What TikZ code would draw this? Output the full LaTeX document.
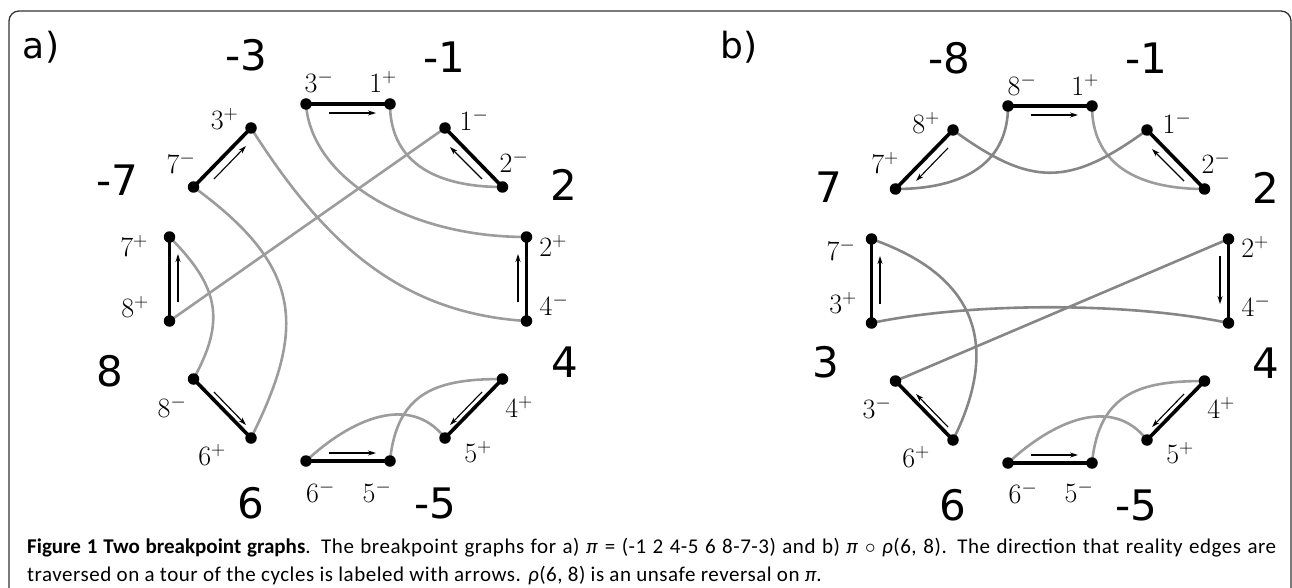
\RequirePackage{fix-cm}
\documentclass[tikz,border=0pt]{standalone}
\usepackage{fontspec}
\newfontfamily\numfont{DejaVu Sans}
\newfontfamily\capfont[LetterSpace=2.5, BoldFeatures={LetterSpace=0}]{Carlito}
\usetikzlibrary{arrows.meta,calc}
\definecolor{lgray}{HTML}{9C9C9C}
\definecolor{dgray}{HTML}{868686}
\tikzset{
  desire/.style={draw=lgray, line width=2.6pt},
  desired/.style={draw=dgray, line width=2.6pt},
  real/.style={draw=black, line width=3.6pt},
  dot/.style={circle, fill=black, inner sep=0pt, minimum size=11.5pt},
  arr/.style={draw=black, line width=1.1pt, -{Stealth[length=8pt,width=5pt]}},
  vlab/.style={inner sep=0pt, font=\fontsize{28}{30}\selectfont},
  big/.style={inner sep=0pt, font=\numfont\fontsize{42}{42}\selectfont},
  panel/.style={inner sep=0pt, font=\numfont\fontsize{36}{36}\selectfont},
  captext/.style={anchor=base west, inner sep=0pt, font=\capfont\fontsize{21}{24}\selectfont},
}
\begin{document}
\begin{tikzpicture}[x=1pt,y=-1pt]
\useasboundingbox (0,0) rectangle (1292,588);
\clip (0,0) rectangle (1292,588);
\draw[rounded corners=10pt, line width=1.3pt, draw=black!80] (9,11) rectangle (1291,640);

% ---------------- panel a ----------------
\begin{scope}
\coordinate (a3m) at (306,104);   \coordinate (a1p) at (390,104);
\coordinate (a3p) at (251,128);   \coordinate (a1m) at (445,128);
\coordinate (a7m) at (193.5,187); \coordinate (a2m) at (502.5,187);
\coordinate (a7p) at (169.5,237); \coordinate (a2p) at (526.5,237);
\coordinate (a8p) at (169.5,321); \coordinate (a4m) at (526.5,321);
\coordinate (a8m) at (193.5,379); \coordinate (a4p) at (502.5,379);
\coordinate (a6p) at (251,438);   \coordinate (a5p) at (445,438);
\coordinate (a6m) at (306,461);   \coordinate (a5m) at (390,461);

\draw[desire] (a3m) .. controls ($(a3m)+(5,73)$) and ($(a2p)+(-121,0)$) .. (a2p);
\draw[desire] (a1p) .. controls ($(a1p)+(0,54)$) and ($(a2m)+(-73,0)$) .. (a2m);
\draw[desire] (a3p) .. controls ($(a3p)+(70,110)$) and ($(a4m)+(-130,-8)$) .. (a4m);
\draw[desire] (a7m) .. controls ($(a7m)+(110,80)$) and ($(a6p)+(55,-110)$) .. (a6p);
\draw[desire] (a7p) .. controls ($(a7p)+(50,50)$) and ($(a8m)+(32,-58)$) .. (a8m);
\draw[desire] (a8p) -- (a1m);
\draw[desire] (a6m) .. controls ($(a6m)+(45,-42)$) and ($(a5p)+(-35,-45)$) .. (a5p);
\draw[desire] (a5m) .. controls ($(a5m)+(7,-71)$) and ($(a4p)+(-63,0)$) .. (a4p);

\draw[real] (a3m) -- (a1p);
\draw[real] (a3p) -- (a7m);
\draw[real] (a1m) -- (a2m);
\draw[real] (a7p) -- (a8p);
\draw[real] (a2p) -- (a4m);
\draw[real] (a8m) -- (a6p);
\draw[real] (a4p) -- (a5p);
\draw[real] (a6m) -- (a5m);

\foreach \n in {3m,1p,3p,1m,7m,2m,7p,2p,8p,4m,8m,4p,6p,5p,6m,5m}
  \node[dot] (da\n) at (a\n) {};

\coordinate (aa1) at (329,113); \coordinate (aa2) at (376,113);
\coordinate (ab1) at (214,179); \coordinate (ab2) at (246,146);
\coordinate (ac1) at (482,179); \coordinate (ac2) at (450,147);
\coordinate (ad1) at (178,302); \coordinate (ad2) at (178,254);
\coordinate (ae1) at (518,302); \coordinate (ae2) at (518,254);
\coordinate (af1) at (214,392); \coordinate (af2) at (246,425);
\coordinate (ag1) at (482,392); \coordinate (ag2) at (450,425);
\coordinate (ah1) at (329,453); \coordinate (ah2) at (376,453);
\draw[arr] (aa1) -- (aa2);
\draw[arr] (ab1) -- (ab2);
\draw[arr] (ac1) -- (ac2);
\draw[arr] (ad1) -- (ad2);
\draw[arr] (ae1) -- (ae2);
\draw[arr] (af1) -- (af2);
\draw[arr] (ag1) -- (ag2);
\draw[arr] (ah1) -- (ah2);

\node[vlab] (la3m) at (319,82) {$3^-$};
\node[vlab] (la1p) at (383,82) {$1^+$};
\node[vlab] (la3p) at (224.5,119) {$3^+$};
\node[vlab] (la1m) at (474,120) {$1^-$};
\node[vlab] (la7m) at (181,163) {$7^-$};
\node[vlab] (la2m) at (514,162) {$2^-$};
\node[vlab] (la7p) at (134,246) {$7^+$};
\node[vlab] (la2p) at (553,246) {$2^+$};
\node[vlab] (la8p) at (135,307) {$8^+$};
\node[vlab] (la4m) at (554,305) {$4^-$};
\node[vlab] (la8m) at (172,407) {$8^-$};
\node[vlab] (la4p) at (519,407) {$4^+$};
\node[vlab] (la6p) at (212,455) {$6^+$};
\node[vlab] (la5p) at (478,452) {$5^+$};
\node[vlab] (la6m) at (320.5,492) {$6^-$};
\node[vlab] (la5m) at (377,492) {$5^-$};

\node[panel] (pa) at (41,47) {a)};
\node[big] (ga1) at (246,55) {-3};
\node[big] (ga2) at (444,57) {-1};
\node[big] (ga3) at (117,180) {-7};
\node[big] (ga4) at (564,185) {2};
\node[big] (ga5) at (110,371) {8};
\node[big] (ga6) at (565,362) {4};
\node[big] (ga7) at (250.5,503) {6};
\node[big] (ga8) at (435,503) {-5};
\end{scope}

% ---------------- panel b ----------------
\begin{scope}[shift={(702,2)}]
\coordinate (b8m) at (306,104);   \coordinate (b1p) at (390,104);
\coordinate (b8p) at (251,128);   \coordinate (b1m) at (445,128);
\coordinate (b7p) at (193.5,187); \coordinate (b2m) at (502.5,187);
\coordinate (b7m) at (169.5,237); \coordinate (b2p) at (526.5,237);
\coordinate (b3p) at (169.5,321); \coordinate (b4m) at (526.5,321);
\coordinate (b3m) at (193.5,379); \coordinate (b4p) at (502.5,379);
\coordinate (b6p) at (251,438);   \coordinate (b5p) at (445,438);
\coordinate (b6m) at (306,461);   \coordinate (b5m) at (390,461);

\draw[desired] (b8m) .. controls ($(b8m)+(0,54)$) and ($(b7p)+(73,0)$) .. (b7p);
\draw[desire] (b1p) .. controls ($(b1p)+(0,54)$) and ($(b2m)+(-73,0)$) .. (b2m);
\draw[desired] (b8p) .. controls ($(b8p)+(78,57)$) and ($(b1m)+(-78,57)$) .. (b1m);
\draw[desired] (b7m) .. controls ($(b7m)+(100,35)$) and ($(b6p)+(50,-100)$) .. (b6p);
\draw[desired] (b2p) -- (b3m);
\draw[desired] (b3p) .. controls ($(b3p)+(100,-21)$) and ($(b4m)+(-100,-21)$) .. (b4m);
\draw[desire] (b6m) .. controls ($(b6m)+(45,-42)$) and ($(b5p)+(-35,-45)$) .. (b5p);
\draw[desire] (b5m) .. controls ($(b5m)+(7,-71)$) and ($(b4p)+(-63,0)$) .. (b4p);

\draw[real] (b8m) -- (b1p);
\draw[real] (b8p) -- (b7p);
\draw[real] (b1m) -- (b2m);
\draw[real] (b7m) -- (b3p);
\draw[real] (b2p) -- (b4m);
\draw[real] (b3m) -- (b6p);
\draw[real] (b4p) -- (b5p);
\draw[real] (b6m) -- (b5m);

\foreach \n in {8m,1p,8p,1m,7p,2m,7m,2p,3p,4m,3m,4p,6p,5p,6m,5m}
  \node[dot] (db\n) at (b\n) {};

\coordinate (ba1) at (329,113); \coordinate (ba2) at (376,113);
\coordinate (bb1) at (246,146); \coordinate (bb2) at (214,179);
\coordinate (bc1) at (482,179); \coordinate (bc2) at (450,147);
\coordinate (bd1) at (178,302); \coordinate (bd2) at (178,254);
\coordinate (be1) at (518,254); \coordinate (be2) at (518,302);
\coordinate (bf1) at (246,425); \coordinate (bf2) at (214,392);
\coordinate (bg1) at (482,392); \coordinate (bg2) at (450,425);
\coordinate (bh1) at (329,453); \coordinate (bh2) at (376,453);
\draw[arr] (ba1) -- (ba2);
\draw[arr] (bb1) -- (bb2);
\draw[arr] (bc1) -- (bc2);
\draw[arr] (bd1) -- (bd2);
\draw[arr] (be1) -- (be2);
\draw[arr] (bf1) -- (bf2);
\draw[arr] (bg1) -- (bg2);
\draw[arr] (bh1) -- (bh2);

\node[vlab] (lb8m) at (320,83) {$8^-$};
\node[vlab] (lb1p) at (383,83) {$1^+$};
\node[vlab] (lb8p) at (224,121) {$8^+$};
\node[vlab] (lb1m) at (475,121) {$1^-$};
\node[vlab] (lb7p) at (183,161) {$7^+$};
\node[vlab] (lb2m) at (514,161) {$2^-$};
\node[vlab] (lb7m) at (139,248) {$7^-$};
\node[vlab] (lb2p) at (553,245) {$2^+$};
\node[vlab] (lb3p) at (141,301) {$3^+$};
\node[vlab] (lb4m) at (554,304) {$4^-$};
\node[vlab] (lb3m) at (175,406) {$3^-$};
\node[vlab] (lb4p) at (519,406) {$4^+$};
\node[vlab] (lb6p) at (214,455) {$6^+$};
\node[vlab] (lb5p) at (478,451) {$5^+$};
\node[vlab] (lb6m) at (321,491) {$6^-$};
\node[vlab] (lb5m) at (377,490) {$5^-$};
\end{scope}

\node[panel] (pb) at (738.7,47) {b)};
\node[big] (gb1) at (949,58) {-8};
\node[big] (gb2) at (1146.6,58) {-1};
\node[big] (gb3) at (829,187) {7};
\node[big] (gb4) at (1266,188) {2};
\node[big] (gb5) at (826,362) {3};
\node[big] (gb6) at (1266,363) {4};
\node[big] (gb7) at (953,505) {6};
\node[big] (gb8) at (1136,505) {-5};

% ---------------- caption ----------------
\node[captext] (cap1) at (27,553)
  {\makebox[1249pt][s]{\textbf{Figure 1 Two breakpoint graphs}. The breakpoint graphs for a) \textit{π} = (-1 2 4-5 6 8-7-3) and b) \textit{π} $\circ$ \textit{ρ}(6, 8). The direction that reality edges are}};
\node[captext] (cap2) at (27,581)
  {traversed on a tour of the cycles is labeled with arrows. \textit{ρ}(6, 8) is an unsafe reversal on \textit{π}.};
\end{tikzpicture}
\end{document}
